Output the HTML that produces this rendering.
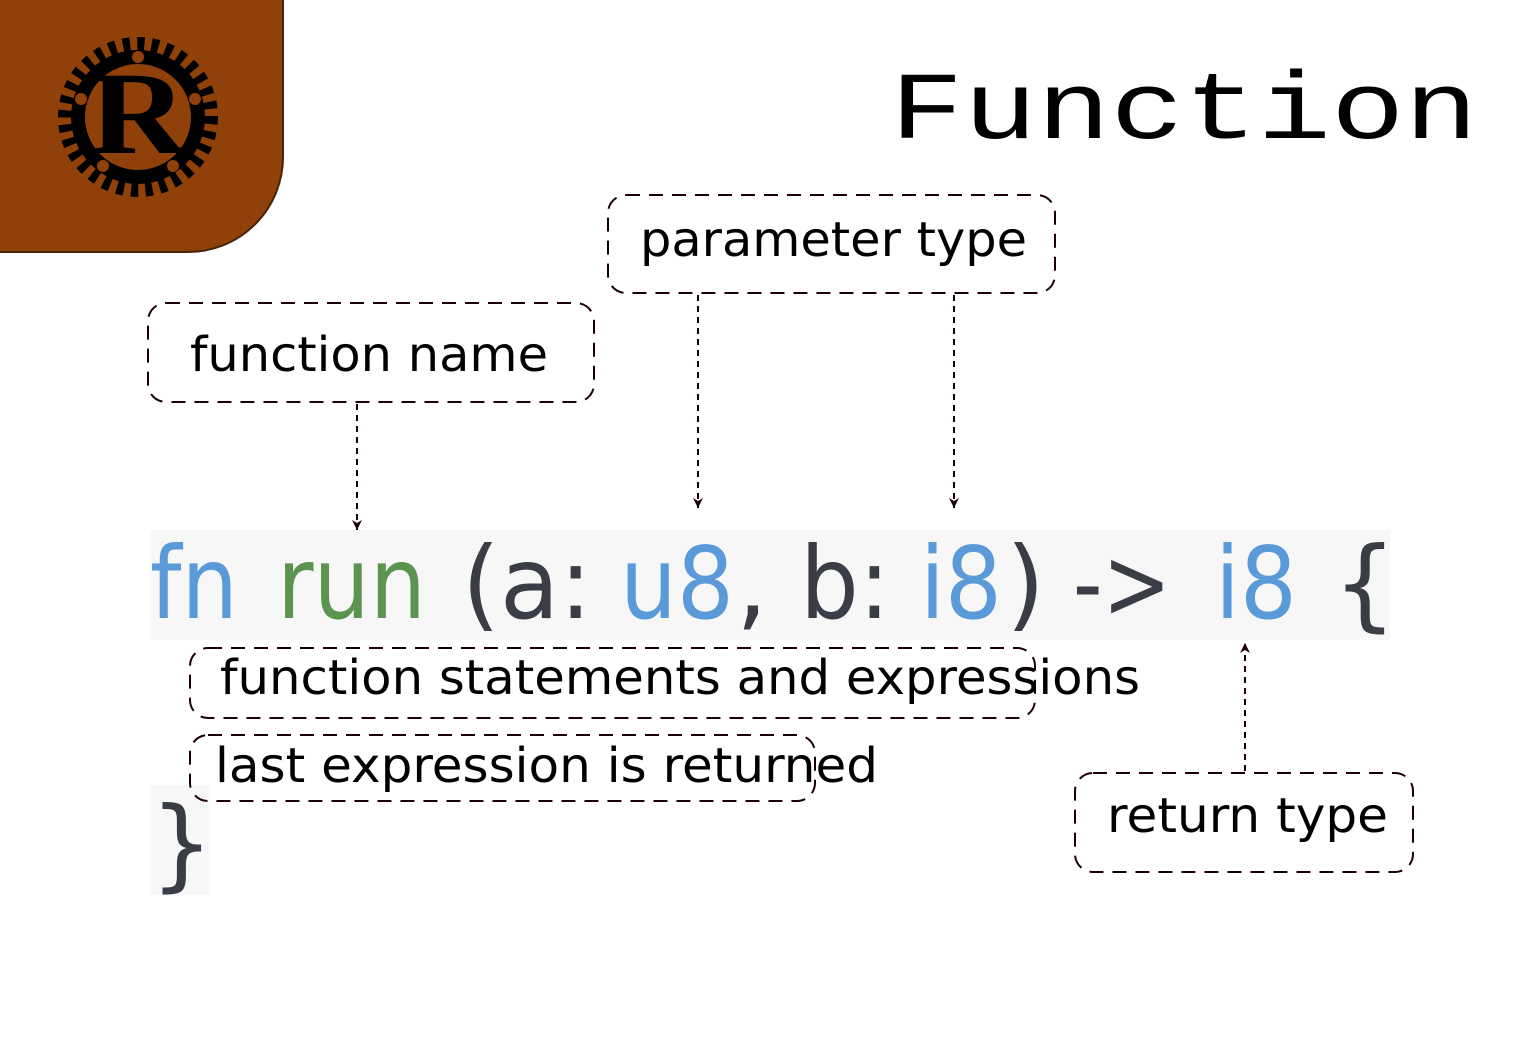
<!DOCTYPE html>
<html><head><meta charset="utf-8"><style>
html,body{margin:0;padding:0;background:#fff;}
svg{display:block;}
</style></head><body>
<svg width="1535" height="1062" viewBox="0 0 1535 1062" xmlns="http://www.w3.org/2000/svg">
<defs>
<marker id="ah" viewBox="0 0 10 10" refX="10" refY="5" markerWidth="14" markerHeight="10" orient="auto" markerUnits="userSpaceOnUse">
<path d="M0,0 L10,5 L0,10 L3,5 Z" fill="#1a0005" stroke="none"/>
</marker>
</defs>
<!-- logo -->
<rect x="-120" y="-100" width="403" height="352" rx="95" fill="#8f4109" stroke="#4a2406" stroke-width="2"/>
<g transform="translate(138,117)">
<circle r="72" fill="none" stroke="#000" stroke-width="16" stroke-dasharray="7.1 7"/>
<circle r="60" fill="none" stroke="#000" stroke-width="14"/>
<circle cx="0" cy="-60" r="6" fill="#8f4109"/>
<circle cx="-57" cy="-18" r="6" fill="#8f4109"/>
<circle cx="57" cy="-18" r="6" fill="#8f4109"/>
<circle cx="-35" cy="49" r="6" fill="#8f4109"/>
<circle cx="35" cy="49" r="6" fill="#8f4109"/>
<text x="0" y="36" text-anchor="middle" font-family="Liberation Serif, serif" font-weight="bold" font-size="118" textLength="98" lengthAdjust="spacingAndGlyphs" fill="#000">R</text>
</g>
<!-- title -->
<text x="890" y="138" font-family="Liberation Mono, monospace" font-size="96" textLength="588" lengthAdjust="spacingAndGlyphs" fill="#000">Function</text>
<!-- code background -->
<rect x="150" y="530" width="1240" height="110" fill="#f7f7f7"/>
<rect x="150" y="785" width="60" height="110" fill="#f7f7f7"/>
<g font-family="DejaVu Sans, sans-serif" font-size="100">
<text x="150" y="618" textLength="88" lengthAdjust="spacingAndGlyphs" fill="#5a9ad8">fn</text>
<text x="277" y="618" textLength="149" lengthAdjust="spacingAndGlyphs" fill="#5b9450">run</text>
<text x="462" y="618" textLength="130" lengthAdjust="spacingAndGlyphs" fill="#3a3d45">(a:</text>
<text x="620" y="618" textLength="114" lengthAdjust="spacingAndGlyphs" fill="#5a9ad8">u8</text>
<text x="736" y="618" fill="#3a3d45">,</text>
<text x="800" y="618" textLength="90" lengthAdjust="spacingAndGlyphs" fill="#3a3d45">b:</text>
<text x="920" y="618" textLength="82" lengthAdjust="spacingAndGlyphs" fill="#5a9ad8">i8</text>
<text x="1006" y="618" fill="#3a3d45">)</text>
<text x="1073" y="618" textLength="98" lengthAdjust="spacingAndGlyphs" fill="#3a3d45">-&gt;</text>
<text x="1215" y="618" textLength="82" lengthAdjust="spacingAndGlyphs" fill="#5a9ad8">i8</text>
<text x="1333" y="618" fill="#3a3d45">{</text>
<text x="150" y="878" fill="#3a3d45">}</text>
</g>
<!-- boxes -->
<g fill="none" stroke="#1a0005" stroke-width="2" stroke-dasharray="14 9">
<rect x="148" y="303" width="446" height="99" rx="18"/>
<rect x="608" y="195" width="447" height="98" rx="18"/>
<rect x="1075" y="773" width="338" height="99" rx="18"/>
<rect x="190" y="648" width="845" height="70" rx="18"/>
<rect x="190" y="735" width="625" height="66" rx="18"/>
</g>
<!-- arrows -->
<g stroke="#1a0005" stroke-width="2" stroke-dasharray="6 5" fill="none">
<line x1="357" y1="404" x2="357" y2="530" marker-end="url(#ah)"/>
<line x1="698" y1="295" x2="698" y2="508" marker-end="url(#ah)"/>
<line x1="954" y1="295" x2="954" y2="508" marker-end="url(#ah)"/>
<line x1="1245" y1="771" x2="1245" y2="643" marker-end="url(#ah)"/>
</g>
<!-- labels -->
<g font-family="DejaVu Sans, sans-serif" font-size="48" fill="#000">
<text x="190" y="371" textLength="358" lengthAdjust="spacingAndGlyphs">function name</text>
<text x="640" y="256" textLength="387" lengthAdjust="spacingAndGlyphs">parameter type</text>
<text x="1107" y="832" textLength="281" lengthAdjust="spacingAndGlyphs">return type</text>
<text x="220" y="694" textLength="920" lengthAdjust="spacingAndGlyphs">function statements and expressions</text>
<text x="215" y="782" textLength="663" lengthAdjust="spacingAndGlyphs">last expression is returned</text>
</g>
</svg>
</body></html>
